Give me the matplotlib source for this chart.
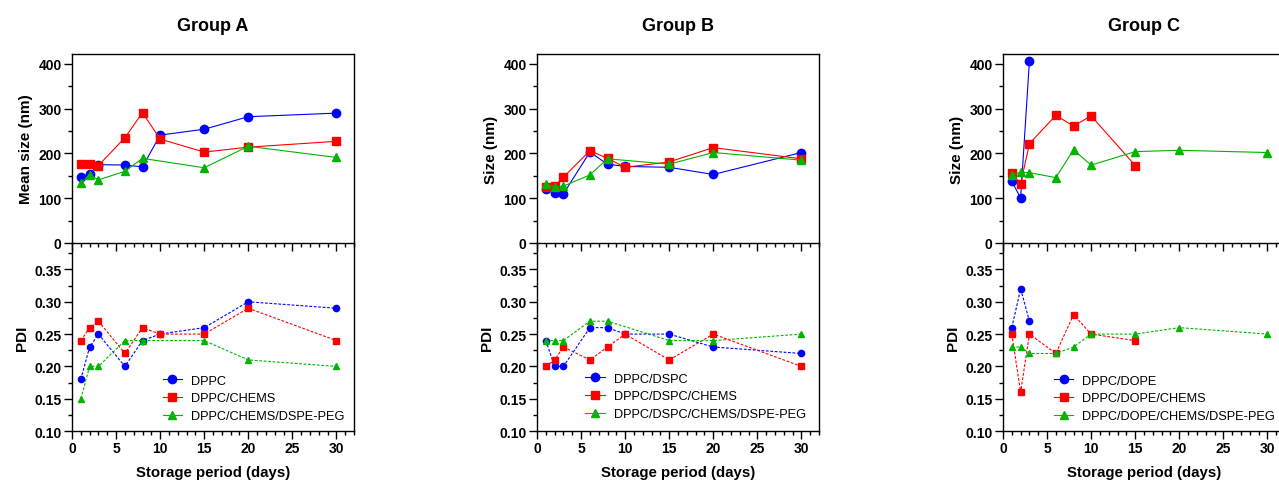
import matplotlib.pyplot as plt
from matplotlib.ticker import MultipleLocator

plt.rcParams['font.family'] = ['Liberation Sans', 'DejaVu Sans']

# ---- Group A ----
a_days = [1, 2, 3, 6, 8, 10, 15, 20, 30]
a_size_dppc = [147, 155, 175, 174, 170, 241, 254, 282, 290]
a_size_chems = [176, 176, 173, 235, 291, 232, 203, 214, 227]
a_size_peg_days = [1, 2, 3, 6, 8, 15, 20, 30]
a_size_peg = [134, 152, 141, 160, 189, 168, 216, 191]
a_pdi_dppc = [0.18, 0.23, 0.25, 0.20, 0.24, 0.25, 0.26, 0.30, 0.29]
a_pdi_chems = [0.24, 0.26, 0.27, 0.22, 0.26, 0.25, 0.25, 0.29, 0.24]
a_pdi_peg = [0.15, 0.20, 0.20, 0.24, 0.24, 0.24, 0.21, 0.20]

# ---- Group B ----
b_days = [1, 2, 3, 6, 8, 10, 15, 20, 30]
b_size_dspc = [120, 111, 110, 203, 176, 171, 169, 153, 202]
b_size_chems = [124, 127, 147, 206, 189, 169, 181, 213, 188]
b_size_peg_days = [1, 2, 3, 6, 8, 15, 20, 30]
b_size_peg = [131, 125, 127, 152, 188, 176, 202, 185]
b_pdi_dspc = [0.24, 0.20, 0.20, 0.26, 0.26, 0.25, 0.25, 0.23, 0.22]
b_pdi_chems = [0.20, 0.21, 0.23, 0.21, 0.23, 0.25, 0.21, 0.25, 0.20]
b_pdi_peg = [0.24, 0.24, 0.24, 0.27, 0.27, 0.24, 0.24, 0.25]

# ---- Group C ----
c_dope_days = [1, 2, 3]
c_size_dope = [138, 100, 407]
c_chems_days = [1, 2, 3, 6, 8, 10, 15]
c_size_chems = [156, 132, 222, 285, 261, 284, 173]
c_peg_days = [1, 2, 3, 6, 8, 10, 15, 20, 30]
c_size_peg = [152, 158, 157, 146, 208, 174, 204, 207, 202]
c_pdi_dope = [0.26, 0.32, 0.27]
c_pdi_chems = [0.25, 0.16, 0.25, 0.22, 0.28, 0.25, 0.24]
c_pdi_peg = [0.23, 0.23, 0.22, 0.22, 0.23, 0.25, 0.25, 0.26, 0.25]

groups = [
    dict(title="Group A", ylabel="Mean size (nm)", left=72,
         names=["DPPC", "DPPC/CHEMS", "DPPC/CHEMS/DSPE-PEG"],
         x=[a_days, a_days, a_size_peg_days],
         size=[a_size_dppc, a_size_chems, a_size_peg],
         pdi=[a_pdi_dppc, a_pdi_chems, a_pdi_peg],
         leg=(0.29, 0.0)),
    dict(title="Group B", ylabel="Size (nm)", left=537,
         names=["DPPC/DSPC", "DPPC/DSPC/CHEMS", "DPPC/DSPC/CHEMS/DSPE-PEG"],
         x=[b_days, b_days, b_size_peg_days],
         size=[b_size_dspc, b_size_chems, b_size_peg],
         pdi=[b_pdi_dspc, b_pdi_chems, b_pdi_peg],
         leg=(0.14, 0.01)),
    dict(title="Group C", ylabel="Size (nm)", left=1003,
         names=["DPPC/DOPE", "DPPC/DOPE/CHEMS", "DPPC/DOPE/CHEMS/DSPE-PEG"],
         x=[c_dope_days, c_chems_days, c_peg_days],
         size=[c_size_dope, c_size_chems, c_size_peg],
         pdi=[c_pdi_dope, c_pdi_chems, c_pdi_peg],
         leg=(0.15, 0.0)),
]

colors = ["#0000ff", "#ff0000", "#00b400"]
markers = ["o", "s", "^"]

W, H = 1279, 481
fig = plt.figure(figsize=(W / 100, H / 100), dpi=100)

ax_w = 282 / W
top_y0, top_y1 = 55, 244
bot_y1 = 432


def style_ticks(ax):
    ax.tick_params(axis="both", which="major", direction="out", length=6, width=1.0,
                   labelsize=10, pad=1.5)
    ax.tick_params(axis="both", which="minor", direction="out", length=3, width=1.0)
    ax.tick_params(top=False, right=False, which="both")
    for lab in ax.get_xticklabels() + ax.get_yticklabels():
        lab.set_fontweight("bold")
    for sp in ax.spines.values():
        sp.set_linewidth(1.0)


for g in groups:
    left = g["left"] / W
    ax_bot = fig.add_axes([left, 1 - bot_y1 / H, ax_w, (bot_y1 - top_y1) / H])
    ax_top = fig.add_axes([left, 1 - top_y1 / H, ax_w, (top_y1 - top_y0) / H])
    ax_top.patch.set_visible(False)
    ax_bot.patch.set_visible(False)

    handles = []
    for i in range(3):
        x = g["x"][i]
        (ln,) = ax_top.plot(x, g["size"][i], color=colors[i], marker=markers[i],
                            ms=6, lw=0.8, label=g["names"][i], clip_on=False)
        handles.append(ln)
        ax_bot.plot(x, g["pdi"][i], color=colors[i], marker=markers[i],
                    ms=4.5, lw=0.8, ls=(0, (2.5, 1.5)), clip_on=False)

    ax_top.set_xlim(0, 32)
    ax_top.set_ylim(0, 422)
    ax_top.yaxis.set_major_locator(MultipleLocator(100))
    ax_top.yaxis.set_minor_locator(MultipleLocator(50))
    ax_top.xaxis.set_major_locator(MultipleLocator(5))
    ax_top.xaxis.set_minor_locator(MultipleLocator(1))
    ax_top.tick_params(axis="x", labelbottom=False)
    ax_top.set_ylabel(g["ylabel"], fontsize=11, fontweight="bold", labelpad=4)
    ax_top.set_title(g["title"], fontsize=13, fontweight="bold", pad=17)
    style_ticks(ax_top)

    ax_bot.set_xlim(0, 32)
    ax_bot.set_ylim(0.10, 0.391)
    ax_bot.yaxis.set_major_locator(MultipleLocator(0.05))
    ax_bot.yaxis.set_minor_locator(MultipleLocator(0.025))
    ax_bot.xaxis.set_major_locator(MultipleLocator(5))
    ax_bot.xaxis.set_minor_locator(MultipleLocator(1))
    ax_bot.yaxis.set_major_formatter(lambda v, p: f"{v:.2f}")
    ax_bot.spines["top"].set_visible(False)
    ax_bot.set_ylabel("PDI", fontsize=11, fontweight="bold", labelpad=4)
    ax_bot.set_xlabel("Storage period (days)", fontsize=10.8, fontweight="bold", labelpad=7)
    style_ticks(ax_bot)

    ax_bot.legend(handles=handles, loc="lower left", bbox_to_anchor=g["leg"],
                  frameon=False, fontsize=9.2, handlelength=1.5, handletextpad=0.7,
                  labelspacing=0.45, borderaxespad=0.3)

fig.savefig("out.png", dpi=100)
